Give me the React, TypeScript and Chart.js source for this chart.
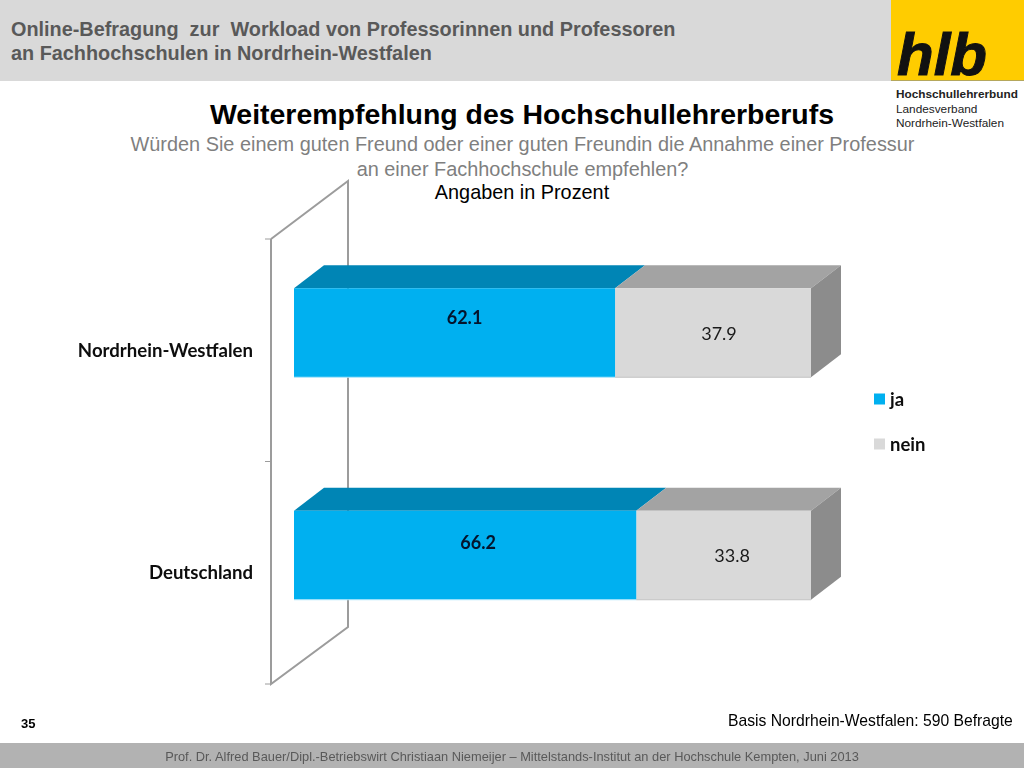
import { useEffect, useRef } from "react";
import { Chart, registerables } from "chart.js";

Chart.register(...registerables);

const categories = ["Nordrhein-Westfalen", "Deutschland"];
const jaValues = [62.1, 66.2];
const neinValues = [37.9, 33.8];
const seriesNames = ["ja", "nein"];

const FRONT_COLORS = ["#00b0f0", "#d9d9d9"];
const TOP_COLORS = ["#0085b5", "#a3a3a3"];
const EDGE_COLORS = ["#b4e8fb", "#c4c4c4"];
const SIDE_COLOR = "#8c8c8c";
const WALL_COLOR = "#9c9c9c";
const LABEL_FONT = "Lato";

// depth of the fake 3d bars, and how far the bars sit in front of the wall
const DEPTH_X = 30;
const DEPTH_Y = 23;
const INSET_X = 23;
const INSET_Y = 17.5;

// value labels in the original do not sit in the middle of the bars
const labelNudge = [
  [[10, -15], [6, 1]],
  [[13, -12], [8.5, 1]],
];

const fakeDepth = {
  id: "fakeDepth",
  beforeDatasetsDraw(chart: any) {
    const { ctx, scales } = chart;
    const y = scales.y;
    const x = scales.x;
    const wallX = x.getPixelForValue(0) - INSET_X;
    const wallTop = y.top + INSET_Y;
    const wallBottom = y.bottom + INSET_Y;
    const wallMid = (wallTop + wallBottom) / 2;

    ctx.save();
    ctx.strokeStyle = WALL_COLOR;
    ctx.lineWidth = 2;
    ctx.beginPath();
    ctx.moveTo(wallX, wallTop);
    ctx.lineTo(wallX, wallBottom);
    ctx.lineTo(wallX + 77, wallBottom - 57);
    ctx.lineTo(wallX + 77, wallTop - 58);
    ctx.lineTo(wallX, wallTop);
    ctx.stroke();
    ctx.lineWidth = 1;
    ctx.beginPath();
    [wallTop, wallMid, wallBottom].forEach((p) => {
      ctx.moveTo(wallX - 6, p);
      ctx.lineTo(wallX, p);
    });
    ctx.stroke();

    // top faces, then the side face on the end of the last series
    chart.data.datasets.forEach((_: any, d: number) => {
      chart.getDatasetMeta(d).data.forEach((bar: any) => {
        const top = bar.y - bar.height / 2;
        ctx.fillStyle = TOP_COLORS[d];
        ctx.beginPath();
        ctx.moveTo(bar.base, top);
        ctx.lineTo(bar.x, top);
        ctx.lineTo(bar.x + DEPTH_X, top - DEPTH_Y);
        ctx.lineTo(bar.base + DEPTH_X, top - DEPTH_Y);
        ctx.closePath();
        ctx.fill();
        if (d === chart.data.datasets.length - 1) {
          ctx.fillStyle = SIDE_COLOR;
          ctx.beginPath();
          ctx.moveTo(bar.x, top);
          ctx.lineTo(bar.x + DEPTH_X, top - DEPTH_Y);
          ctx.lineTo(bar.x + DEPTH_X, top - DEPTH_Y + bar.height);
          ctx.lineTo(bar.x, top + bar.height);
          ctx.closePath();
          ctx.fill();
        }
      });
    });
    ctx.restore();
  },
  afterDatasetsDraw(chart: any) {
    const { ctx } = chart;
    ctx.save();

    // thin pale edge under the front faces
    chart.data.datasets.forEach((_: any, d: number) => {
      ctx.fillStyle = EDGE_COLORS[d];
      chart.getDatasetMeta(d).data.forEach((bar: any) => {
        ctx.fillRect(bar.base, bar.y + bar.height / 2 - 0.5, bar.x - bar.base, 1);
      });
    });

    ctx.textAlign = "center";
    ctx.textBaseline = "middle";
    chart.data.datasets.forEach((ds: any, d: number) => {
      ctx.font = `${d === 0 ? "bold " : ""}18px ${LABEL_FONT}`;
      ctx.fillStyle = d === 0 ? "#04142c" : "#1a1a1a";
      chart.getDatasetMeta(d).data.forEach((bar: any, i: number) => {
        const [dx, dy] = labelNudge[i][d];
        ctx.fillText(ds.data[i].toFixed(1), (bar.base + bar.x) / 2 + dx, bar.y + dy);
      });
    });

    // legend sits above the middle of the plot, so it is drawn here
    ctx.textAlign = "left";
    ctx.font = `bold 18.5px ${LABEL_FONT}`;
    chart.data.datasets.forEach((ds: any, d: number) => {
      const ly = 399 + d * 45;
      ctx.fillStyle = ds.backgroundColor;
      ctx.fillRect(874, ly - 5.5, 11, 11);
      ctx.fillStyle = "#0d0d0d";
      ctx.fillText(ds.label, 890, ly + 1);
    });
    ctx.restore();
  },
};

const abs = (left: number, top: number, extra: any = {}) => ({
  position: "absolute" as const,
  left,
  top,
  whiteSpace: "nowrap" as const,
  fontFamily: "'Liberation Sans', sans-serif",
  ...extra,
});

export default function App() {
  const chartRef = useRef<HTMLCanvasElement>(null);

  useEffect(() => {
    if (!chartRef.current) return;
    const chart = new Chart(chartRef.current, {
      type: "bar",
      data: {
        labels: categories,
        datasets: [
          { label: seriesNames[0], data: jaValues, backgroundColor: FRONT_COLORS[0] },
          { label: seriesNames[1], data: neinValues, backgroundColor: FRONT_COLORS[1] },
        ],
      },
      options: {
        indexAxis: "y",
        animation: false,
        responsive: false,
        devicePixelRatio: 1,
        layout: { padding: { left: 0, right: 213, top: 221.5, bottom: 101.5 } },
        datasets: { bar: { barPercentage: 0.4, categoryPercentage: 1 } },
        plugins: { legend: { display: false }, tooltip: { enabled: false } },
        scales: {
          x: { display: false, stacked: true, min: 0, max: 100 },
          y: {
            stacked: true,
            border: { display: false },
            grid: { display: false, drawTicks: false },
            afterFit: (s: any) => {
              s.width = 294;
            },
            ticks: {
              padding: 41,
              labelOffset: 18,
              color: "#0d0d0d",
              font: { family: LABEL_FONT, size: 18.6, weight: "bold" },
            },
          },
        },
      },
      plugins: [fakeDepth],
    } as any);
    return () => chart.destroy();
  }, []);

  return (
    <div style={{ position: "relative", width: 1024, height: 768, overflow: "hidden", background: "#fff" }}>
      <style>{`body{margin:0}`}</style>
      <div style={{ position: "absolute", left: 0, top: 0, width: 891, height: 81, background: "#d9d9d9" }} />
      <div style={{ position: "absolute", left: 891, top: 0, width: 133, height: 80, background: "#ffcc00" }} />
      <div style={{ position: "absolute", left: 891, top: 80, width: 133, height: 1, background: "#b5a75c" }} />
      <div style={{ position: "absolute", left: 0, top: 743, width: 1024, height: 25, background: "#b2b2b2" }} />

      <div style={abs(11, 18, { fontSize: 19.85, lineHeight: "23.5px", fontWeight: "bold", color: "#595959", whiteSpace: "pre" })}>
        {"Online-Befragung  zur  Workload von Professorinnen und Professoren\nan Fachhochschulen in Nordrhein-Westfalen"}
      </div>
      <div style={abs(897, 24, { fontSize: 60, lineHeight: "62px", fontWeight: "bold", fontStyle: "italic", color: "#111", WebkitTextStroke: "1px #111" })}>
        hlb
      </div>
      <div style={abs(896, 87, { fontSize: 11.8, lineHeight: "14.5px", color: "#222" })}>
        <b>Hochschullehrerbund</b>
        <br />
        Landesverband
        <br />
        Nordrhein-Westfalen
      </div>

      <div style={abs(0, 96, { width: 1044, textAlign: "center", fontSize: 28.46, lineHeight: "36px", fontWeight: "bold", color: "#000" })}>
        Weiterempfehlung des Hochschullehrerberufs
      </div>
      <div style={abs(0, 132, { width: 1045, textAlign: "center", fontSize: 19.9, lineHeight: "24.5px", color: "#7f7f7f" })}>
        Würden Sie einem guten Freund oder einer guten Freundin die Annahme einer Professur
        <br />
        an einer Fachhochschule empfehlen?
      </div>
      <div style={abs(0, 180, { width: 1044, textAlign: "center", fontSize: 19.85, lineHeight: "24.5px", color: "#000" })}>
        Angaben in Prozent
      </div>

      <canvas ref={chartRef} width={1024} height={768} style={{ position: "absolute", left: 0, top: 0, width: 1024, height: 768 }} />

      <div style={abs(21, 716, { fontSize: 13, fontWeight: "bold", color: "#000" })}>35</div>
      <div style={abs(728, 712, { fontSize: 15.7, color: "#000" })}>Basis Nordrhein-Westfalen: 590 Befragte</div>
      <div style={abs(0, 749, { width: 1024, textAlign: "center", fontSize: 12.83, color: "#595959" })}>
        Prof. Dr. Alfred Bauer/Dipl.-Betriebswirt Christiaan Niemeijer – Mittelstands-Institut an der Hochschule Kempten, Juni 2013
      </div>
    </div>
  );
}
